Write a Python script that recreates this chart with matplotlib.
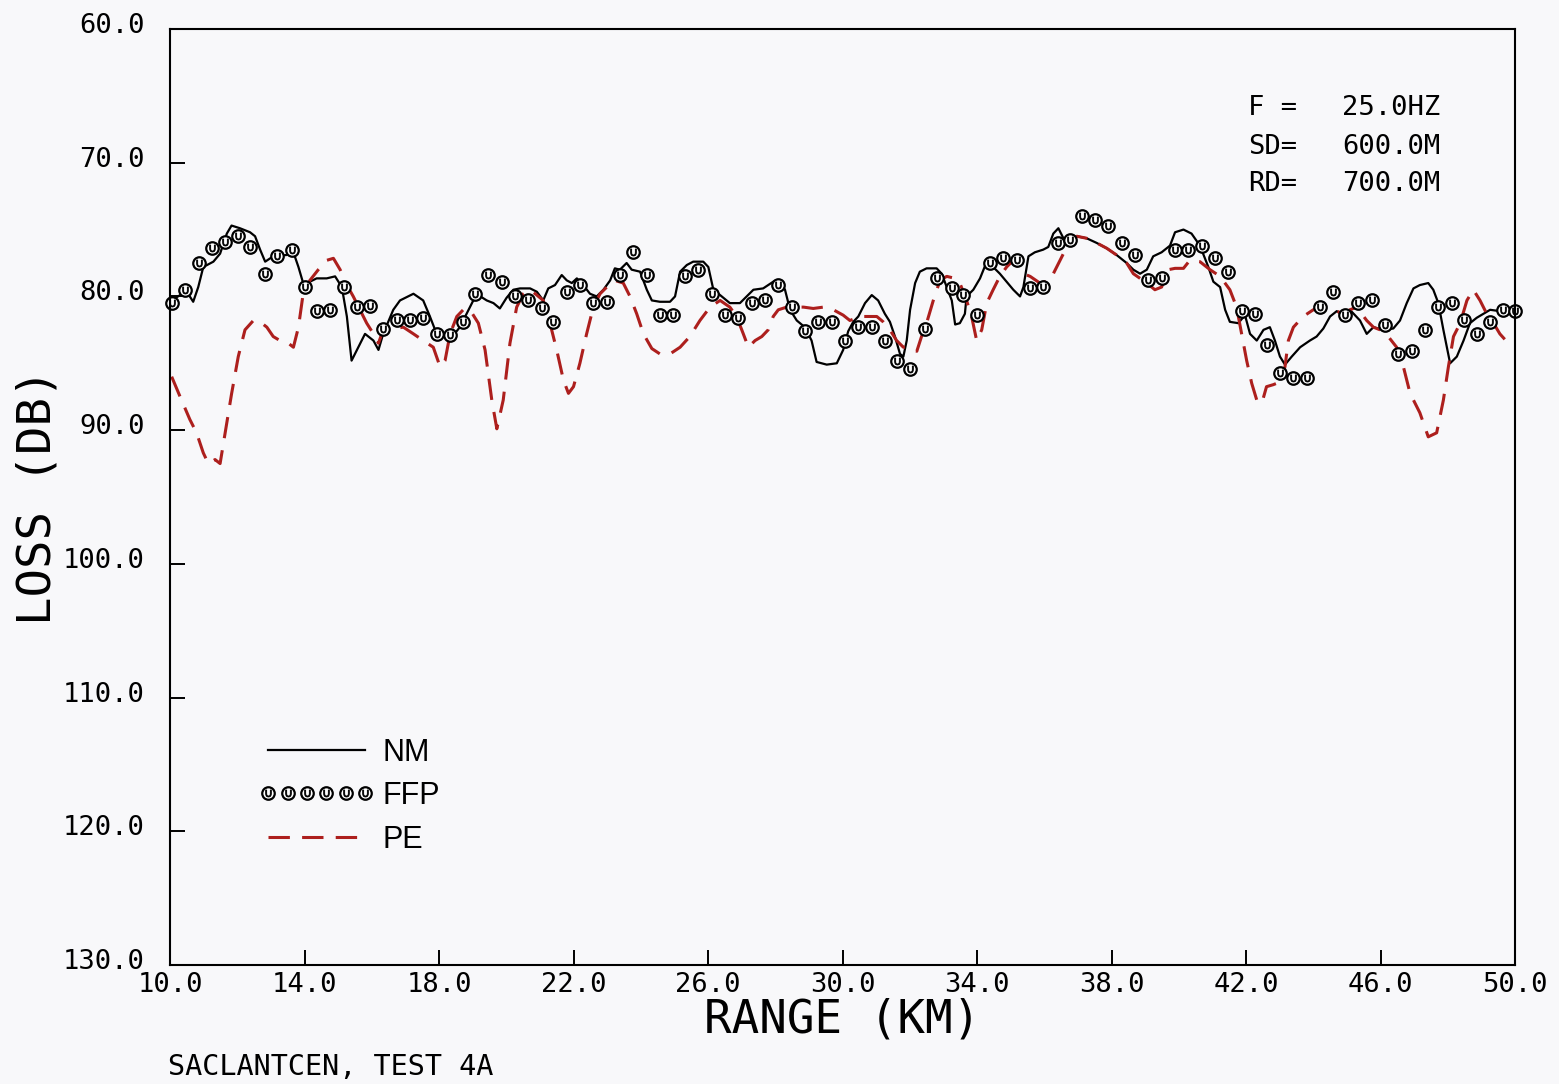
import matplotlib
matplotlib.use('Agg')
import matplotlib.pyplot as plt
import matplotlib.transforms as mtransforms
from matplotlib.legend_handler import HandlerTuple
import numpy as np

plt.rcParams['font.family'] = 'DejaVu Sans Mono'

# ---------------- data ---------------- #
nm_x = [10.05, 10.30, 10.50, 10.69, 10.84, 10.99, 11.29, 11.49, 11.69, 11.83,
        12.08, 12.38, 12.53, 12.68, 12.83, 13.07, 13.47, 13.67, 13.82, 13.96,
        14.16, 14.36, 14.66, 14.91, 15.11, 15.26, 15.40, 15.60, 15.80, 16.05,
        16.20, 16.34, 16.64, 16.84, 17.24, 17.53, 17.73, 17.93, 18.23, 18.43,
        18.62, 18.82, 19.02, 19.17, 19.42, 19.62, 19.81, 20.01, 20.21, 20.41,
        20.71, 20.91, 21.10, 21.25, 21.45, 21.65, 21.80, 21.95, 22.10, 22.29,
        22.49, 22.69, 22.89, 23.09, 23.23, 23.38, 23.58, 23.73, 23.98, 24.18,
        24.33, 24.57, 24.87, 25.02, 25.17, 25.37, 25.56, 25.86, 26.01, 26.16,
        26.36, 26.65, 26.95, 27.15, 27.35, 27.64, 27.94, 28.14, 28.29, 28.44,
        28.64, 28.88, 29.08, 29.23, 29.53, 29.83, 30.02, 30.17, 30.32, 30.47,
        30.67, 30.87, 31.06, 31.26, 31.41, 31.56, 31.71, 31.81, 31.91, 32.01,
        32.16, 32.30, 32.50, 32.80, 32.95, 33.10, 33.25, 33.35, 33.49, 33.64,
        33.69, 33.89, 34.09, 34.29, 34.48, 34.68, 34.88, 35.08, 35.28, 35.38,
        35.53, 35.72, 35.97, 36.12, 36.27, 36.42, 36.57, 36.77, 36.97, 37.26,
        37.56, 37.86, 38.15, 38.45, 38.65, 38.85, 39.05, 39.24, 39.49, 39.74,
        39.89, 40.14, 40.38, 40.63, 40.88, 41.03, 41.23, 41.38, 41.52, 41.77,
        41.97, 42.12, 42.32, 42.52, 42.71, 42.86, 43.01, 43.16, 43.36, 43.61,
        43.90, 44.10, 44.30, 44.50, 44.70, 44.89, 45.09, 45.39, 45.59, 45.79,
        46.08, 46.38, 46.58, 46.78, 46.98, 47.17, 47.42, 47.57, 47.72, 47.87,
        48.07, 48.27, 48.47, 48.66, 48.86, 49.06, 49.26, 49.55, 49.95]
nm_y = [80.3, 79.9, 79.65, 80.4, 79.3, 77.8, 77.4, 76.8, 75.3, 74.7,
        74.9, 75.2, 75.5, 76.5, 77.4, 77.0, 76.9, 76.7, 77.8, 79.0,
        78.9, 78.65, 78.65, 78.5, 79.3, 81.5, 84.8, 83.8, 82.8, 83.3,
        84.0, 82.8, 81.0, 80.3, 79.8, 80.3, 81.5, 82.8, 83.0, 82.9,
        82.3, 81.3, 80.3, 79.9, 80.3, 80.5, 80.9, 80.1, 79.5, 79.4,
        79.4, 79.65, 80.3, 79.4, 79.15, 78.4, 78.8, 79.0, 78.65, 79.15,
        79.8, 80.0, 79.5, 78.8, 77.9, 78.0, 77.5, 78.0, 78.15, 79.5,
        80.3, 80.4, 80.4, 80.0, 78.15, 77.65, 77.4, 77.4, 77.8, 79.5,
        79.9, 80.5, 80.5, 80.0, 79.5, 79.4, 78.9, 78.8, 79.5, 81.0,
        81.8, 82.3, 83.3, 84.9, 85.1, 85.0, 84.0, 82.6, 81.9, 81.5,
        80.5, 79.9, 80.3, 81.3, 81.9, 83.0, 84.3, 84.5, 83.3, 81.0,
        79.0, 78.15, 77.9, 77.9, 78.3, 79.3, 80.3, 82.1, 82.0, 81.3,
        80.0, 79.5, 78.65, 77.4, 77.8, 78.3, 78.9, 79.5, 80.0, 79.3,
        77.0, 76.7, 76.5, 76.3, 75.3, 74.9, 75.65, 75.8, 75.5, 75.65,
        76.0, 76.4, 76.9, 77.5, 78.0, 78.3, 78.0, 77.0, 76.7, 76.2,
        75.2, 75.0, 75.3, 76.2, 77.8, 78.9, 79.3, 81.0, 81.9, 82.0,
        81.4, 82.8, 83.3, 82.5, 82.3, 83.3, 84.5, 85.1, 84.5, 83.8,
        83.3, 83.0, 82.4, 81.5, 81.1, 81.4, 81.0, 81.8, 82.8, 82.3,
        82.5, 82.4, 81.8, 80.5, 79.4, 79.15, 79.0, 79.5, 80.5, 82.5,
        85.0, 84.5, 83.3, 82.0, 81.6, 81.3, 81.0, 81.1, 81.0]

ffp_x = [10.05, 10.45, 10.87, 11.24, 11.64, 12.03, 12.38, 12.83, 13.17, 13.62,
         14.01, 14.36, 14.76, 15.16, 15.55, 15.95, 16.34, 16.74, 17.14, 17.53,
         17.93, 18.33, 18.72, 19.07, 19.47, 19.86, 20.26, 20.66, 21.05, 21.40,
         21.80, 22.19, 22.59, 22.99, 23.38, 23.78, 24.18, 24.57, 24.97, 25.32,
         25.71, 26.11, 26.51, 26.90, 27.30, 27.70, 28.09, 28.49, 28.88, 29.28,
         29.68, 30.07, 30.47, 30.87, 31.26, 31.61, 32.01, 32.45, 32.80, 33.25,
         33.59, 33.99, 34.39, 34.78, 35.18, 35.58, 35.97, 36.42, 36.77, 37.11,
         37.51, 37.90, 38.30, 38.70, 39.09, 39.49, 39.89, 40.28, 40.68, 41.08,
         41.47, 41.87, 42.27, 42.61, 43.01, 43.41, 43.80, 44.20, 44.60, 44.94,
         45.34, 45.74, 46.13, 46.53, 46.93, 47.32, 47.72, 48.12, 48.47, 48.86,
         49.26, 49.65, 50.00]
ffp_y = [80.5, 79.5, 77.5, 76.4, 75.9, 75.5, 76.3, 78.3, 77.0, 76.5,
         79.3, 81.1, 81.0, 79.3, 80.8, 80.7, 82.4, 81.8, 81.8, 81.6,
         82.8, 82.9, 81.9, 79.8, 78.4, 78.9, 80.0, 80.3, 80.9, 81.9,
         79.65, 79.15, 80.5, 80.4, 78.4, 76.7, 78.4, 81.4, 81.4, 78.5,
         78.0, 79.8, 81.4, 81.6, 80.5, 80.3, 79.15, 80.8, 82.6, 81.9,
         81.9, 83.3, 82.3, 82.3, 83.3, 84.8, 85.4, 82.4, 78.65, 79.4,
         79.9, 81.4, 77.5, 77.15, 77.3, 79.4, 79.3, 76.0, 75.8, 74.0,
         74.3, 74.7, 76.0, 76.9, 78.8, 78.65, 76.5, 76.5, 76.2, 77.15,
         78.2, 81.1, 81.3, 83.6, 85.75, 86.1, 86.1, 80.8, 79.7, 81.4,
         80.5, 80.3, 82.1, 84.3, 84.1, 82.5, 80.8, 80.5, 81.8, 82.8,
         81.9, 81.0, 81.1]

pe_x = [10.05, 10.30, 10.59, 10.79, 10.99, 11.14, 11.34, 11.49, 11.64, 11.83,
        12.03, 12.23, 12.48, 12.68, 12.88, 13.07, 13.27, 13.47, 13.67, 13.82,
        13.96, 14.16, 14.41, 14.66, 14.86, 15.06, 15.26, 15.45, 15.65, 15.85,
        16.05, 16.20, 16.34, 16.64, 16.94, 17.24, 17.53, 17.83, 18.03, 18.18,
        18.33, 18.53, 18.72, 18.92, 19.17, 19.37, 19.57, 19.72, 19.91, 20.11,
        20.31, 20.51, 20.71, 20.91, 21.10, 21.30, 21.50, 21.70, 21.85, 22.00,
        22.19, 22.39, 22.59, 22.79, 22.99, 23.23, 23.48, 23.68, 23.88, 24.08,
        24.33, 24.57, 24.87, 25.17, 25.46, 25.76, 26.06, 26.36, 26.65, 26.85,
        27.05, 27.20, 27.40, 27.60, 27.79, 27.94, 28.09, 28.34, 28.54, 28.84,
        29.13, 29.43, 29.73, 30.02, 30.22, 30.52, 31.02, 31.21, 31.41, 31.61,
        31.81, 32.01, 32.21, 32.35, 32.50, 32.70, 32.90, 33.10, 33.35, 33.49,
        33.69, 33.84, 33.99, 34.14, 34.29, 34.48, 34.68, 34.88, 35.08, 35.38,
        35.58, 35.87, 36.17, 36.37, 36.57, 36.77, 36.97, 37.26, 37.56, 37.86,
        38.15, 38.45, 38.65, 38.85, 39.05, 39.29, 39.49, 39.69, 39.89, 40.14,
        40.33, 40.63, 40.93, 41.23, 41.52, 41.72, 41.87, 42.02, 42.17, 42.32,
        42.47, 42.61, 42.81, 43.01, 43.16, 43.26, 43.41, 43.70, 44.00, 44.30,
        44.60, 44.89, 45.09, 45.29, 45.44, 45.59, 45.79, 45.99, 46.23, 46.48,
        46.68, 46.88, 47.17, 47.42, 47.67, 47.87, 48.02, 48.17, 48.37, 48.57,
        48.76, 48.96, 49.16, 49.36, 49.55, 49.80]
pe_y = [86.0, 87.5, 89.2, 90.2, 91.7, 92.5, 92.2, 92.5, 90.2, 87.3,
        84.5, 82.5, 81.8, 81.9, 82.3, 83.0, 83.3, 83.4, 83.8, 82.3,
        79.8, 78.8, 78.0, 77.3, 77.15, 78.0, 79.15, 80.0, 81.0, 82.0,
        82.8, 83.5, 82.5, 82.4, 82.3, 82.8, 83.3, 83.8, 85.25, 84.8,
        82.8, 81.5, 81.0, 81.0, 82.0, 84.0, 87.75, 89.9, 87.75, 83.5,
        80.8, 79.8, 79.5, 79.9, 80.3, 82.0, 84.0, 86.25, 87.25, 86.75,
        85.0, 82.8, 80.8, 79.8, 79.3, 78.8, 79.0, 80.0, 81.3, 82.8,
        83.9, 84.3, 84.3, 83.8, 83.0, 81.8, 80.8, 80.3, 80.8, 81.5,
        82.8, 83.8, 83.3, 83.0, 82.5, 81.5, 81.0, 80.8, 80.8, 80.8,
        80.9, 80.8, 81.0, 81.4, 81.8, 81.5, 81.5, 81.9, 82.5, 83.3,
        83.8, 83.8, 84.1, 83.0, 82.0, 80.3, 78.8, 78.5, 78.65, 79.0,
        80.3, 81.5, 83.3, 82.5, 80.5, 79.5, 78.5, 77.8, 77.3, 78.3,
        78.5, 79.0, 78.8, 77.8, 76.8, 76.0, 75.5, 75.65, 76.0, 76.4,
        76.9, 77.5, 78.3, 78.65, 79.0, 79.5, 79.3, 78.0, 77.9, 77.9,
        77.3, 77.4, 78.0, 78.5, 79.5, 80.8, 82.8, 84.8, 86.5, 87.75,
        88.0, 86.75, 86.6, 86.4, 85.25, 83.3, 82.3, 81.5, 81.0, 80.8,
        81.0, 81.3, 81.0, 80.8, 81.3, 81.8, 82.3, 82.5, 83.0, 83.8,
        85.25, 87.25, 88.7, 90.5, 90.2, 87.75, 85.25, 83.0, 82.0, 80.3,
        79.5, 80.3, 81.3, 82.0, 82.8, 83.5]

xticks = np.arange(10, 50.1, 4)
yticks = np.arange(60, 130.1, 10)

info_lab = ['F =', 'SD=', 'RD=']
info_val = ['25.0HZ', '600.0M', '700.0M']

# ---------------- figure ---------------- #
bg = '#f8f8fa'
fig = plt.figure(figsize=(15.59, 10.84), dpi=100, facecolor=bg)
ax = fig.add_axes([170 / 1559, 1 - 965 / 1084, 1345 / 1559, 936 / 1084])
ax.set_facecolor(bg)

red = '#ad1f1d'
p1, = ax.plot(nm_x, nm_y, color='black', linewidth=1.6)
p3, = ax.plot(pe_x, pe_y, color=red, linewidth=2.2, dashes=(7, 4))
p2, = ax.plot(ffp_x, ffp_y, linestyle='none', marker='o', ms=9, mew=1.6,
              mfc='white', mec='black', clip_on=False)
p2b, = ax.plot(ffp_x, ffp_y, linestyle='none', marker=r'$\cup$', ms=5,
               mew=0.6, color='black', clip_on=False)

ax.set_xlim(10, 50)
ax.set_ylim(130, 60)
ax.set_xticks(xticks)
ax.set_yticks(yticks)
ax.set_xticklabels(['%.1f' % v for v in xticks])
ax.set_yticklabels(['%.1f' % v for v in yticks])
ax.tick_params(direction='in', length=11, width=1.4, labelsize=19.5)
ax.tick_params(axis='x', pad=5)
ax.tick_params(axis='y', pad=18)
shift = mtransforms.ScaledTranslation(0, 6 / 100, fig.dpi_scale_trans)
for lb in ax.get_yticklabels():
    lb.set_transform(lb.get_transform() + shift)
for s in ax.spines.values():
    s.set_linewidth(1.5)

ax.set_xlabel('RANGE (KM)', fontsize=33, labelpad=0)
ax.set_ylabel('LOSS (DB)', fontsize=34, labelpad=2)

ax.legend([p1, (p2, p2b), p3], ['NM', 'FFP', 'PE'],
          loc='upper left', bbox_to_anchor=(0.0662, 0.2428),
          frameon=False, borderpad=0, borderaxespad=0,
          handlelength=3.77, handletextpad=0.26, labelspacing=0.44,
          numpoints=6, prop=dict(family='Liberation Sans', size=22),
          handler_map={tuple: HandlerTuple(ndivide=1, pad=0)})

info_y = [0.9156, 0.874, 0.834]
for lab, val, yy in zip(info_lab, info_val, info_y):
    ax.text(0.8015, yy, lab, transform=ax.transAxes, fontsize=19.5, va='center', ha='left')
    ax.text(0.8714, yy, val, transform=ax.transAxes, fontsize=19.5, va='center', ha='left')

fig.text(168 / 1559, 1 - 1067 / 1084, 'SACLANTCEN, TEST 4A', fontsize=20.5,
         va='center', ha='left')

plt.savefig('out.png', dpi=100, facecolor=bg)
